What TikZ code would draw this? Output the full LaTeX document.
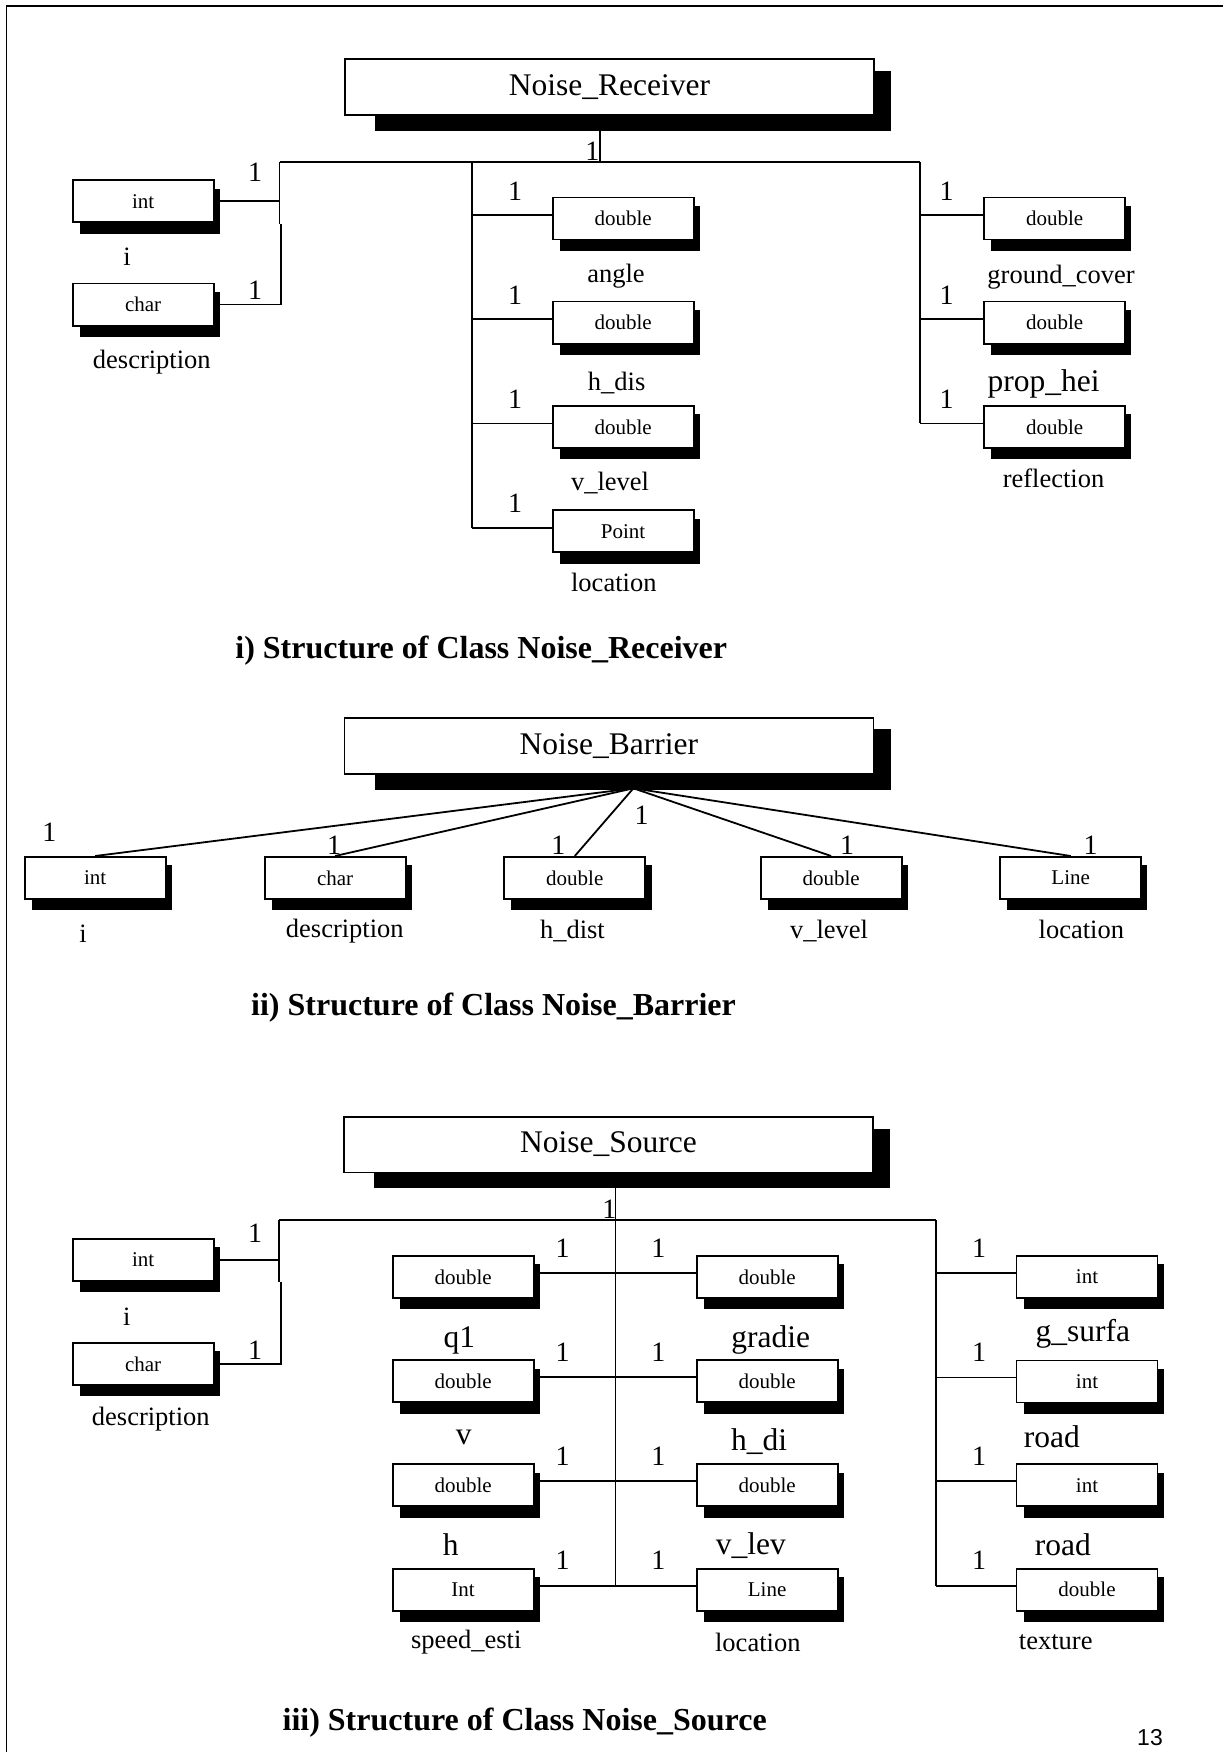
\documentclass[tikz,border=0pt]{standalone}
\usepackage{fontspec}
\setmainfont{Liberation Serif}
\newfontfamily\pagefont{Liberation Sans}
\usetikzlibrary{calc,backgrounds}

\tikzset{
  link/.style={line width=1.8pt},
  attr/.style={draw, fill=white, line width=1.8pt, inner sep=0pt, anchor=north west,
    minimum width=141pt, minimum height=42pt, font=\fontsize{21}{24}\selectfont},
  cls/.style={draw, fill=white, line width=1.8pt, inner sep=0pt, anchor=north west,
    minimum width=529pt, minimum height=55.5pt, font=\fontsize{31.5}{36}\selectfont},
  mult/.style={inner sep=0pt, font=\fontsize{28}{30}\selectfont},
  lbl/.style={inner sep=0pt, font=\fontsize{26.5}{30}\selectfont},
  biglbl/.style={inner sep=0pt, font=\fontsize{31.5}{34}\selectfont},
  caption/.style={inner sep=0pt, anchor=base west, font=\bfseries\fontsize{32}{36}\selectfont},
}

\begin{document}
\begin{tikzpicture}[x=1pt, y=-1pt]
\useasboundingbox (0,0) rectangle (1223,1752);

% page frame (left and top edges)
\draw[line width=1.5pt] (6.5,1752) -- (6.5,6) -- (1223,6);

% ================= class Noise_Receiver =================
\node[cls] (recv) at (344,58.5) {Noise\_Receiver};
\node[attr] (r_i)    at (71.7,179.3)  {int};
\node[attr] (r_desc) at (71.7,282.7)  {char};
\node[attr] (r_angle) at (551.7,196.7) {double};
\node[attr] (r_hdis)  at (551.7,300.7) {double};
\node[attr] (r_vlev)  at (551.7,405)   {double};
\node[attr] (r_loc)   at (551.7,509.3) {Point};
\node[attr] (r_gc)    at (983.3,196.7) {double};
\node[attr] (r_ph)    at (983.3,300.7) {double};
\node[attr] (r_refl)  at (983.3,405)   {double};

\coordinate (r_bus)   at (600,162);
\coordinate (r_left)  at (279.5,162);
\coordinate (r_mid)   at (471.7,162);
\coordinate (r_right) at (920,162);
\coordinate (r_jog)   at (281,224);

\draw[link] (recv.south -| r_bus) -- (r_bus);
\draw[link] (r_left) -- (r_right);
\draw[link] (r_i.east) -- (r_i.east -| r_left);
\draw[link] (r_left) -- (r_left |- r_jog);
\draw[link] (r_jog) -- (r_jog |- r_desc.east) -- (r_desc.east);
\foreach \n in {r_angle,r_hdis,r_vlev,r_loc}{
  \coordinate (\n-w) at ($(\n.west)+(0,-3.5)$);
  \draw[link] (\n-w) -- (\n-w -| r_mid);
}
\draw[link] (r_mid) -- (r_loc-w -| r_mid);
\foreach \n in {r_gc,r_ph,r_refl}{
  \coordinate (\n-w) at ($(\n.west)+(0,-3.5)$);
  \draw[link] (\n-w) -- (\n-w -| r_right);
}
\draw[link] (r_right) -- (r_refl-w -| r_right);

\node[mult] (r_m0) at (592.3,151) {1};
\node[mult] (r_m1) at (255,172.7) {1};
\node[mult] (r_m2) at (255,290.3) {1};
\node[mult] (r_m3) at (515,191.3) {1};
\node[mult] (r_m4) at (515,295) {1};
\node[mult] (r_m5) at (515,399.5) {1};
\node[mult] (r_m6) at (515,503.3) {1};
\node[mult] (r_m7) at (946.7,191.3) {1};
\node[mult] (r_m8) at (946.7,295) {1};
\node[mult] (r_m9) at (946.7,399.5) {1};

\node[lbl] (r_ti) at (127,256.7) {i};
\node[lbl] (r_td) at (151.8,361.7) {description};
\node[lbl] (r_ta) at (616,276) {angle};
\node[lbl] (r_th) at (616.7,383) {h\_dis};
\node[lbl] (r_tv) at (610,483) {v\_level};
\node[lbl] (r_tl) at (613.8,582.5) {location};
\node[lbl] (r_tg) at (1061,277.5) {ground\_cover};
\node[biglbl] (r_tp) at (1043.5,384) {prop\_hei};
\node[lbl] (r_tr) at (1053.5,478.5) {reflection};

\node[caption] (cap1) at (235.2,658.3) {i) Structure of Class Noise\_Receiver};

% ================= class Noise_Barrier =================
\node[cls, minimum height=56pt] (barr) at (343.5,716.7) {Noise\_Barrier};
\node[attr] (b_i)    at (23.7,856)  {int};
\node[attr] (b_desc) at (263.7,856) {char};
\node[attr] (b_hd)   at (503.4,856) {double};
\node[attr] (b_vl)   at (759.7,856) {double};
\node[attr] (b_loc)  at (999.3,856) {Line};

\coordinate (b_hub) at (633.4,788.3);
\foreach \n in {b_i,b_desc,b_hd,b_vl,b_loc}
  \draw[link] (b_hub) -- (\n.north);

\node[mult] (b_m1) at (49.4,832.5) {1};
\node[mult] (b_m2) at (334,845) {1};
\node[mult] (b_m3) at (558.3,845) {1};
\node[mult] (b_m4) at (641.7,815) {1};
\node[mult] (b_m5) at (847,845) {1};
\node[mult] (b_m6) at (1090.7,845) {1};

\node[lbl] (b_ti) at (83,934) {i};
\node[lbl] (b_td) at (344.8,931) {description};
\node[lbl] (b_th) at (572.4,931) {h\_dist};
\node[lbl] (b_tv) at (829,931) {v\_level};
\node[lbl] (b_tl) at (1081.3,929) {location};

\node[caption] (cap2) at (251,1015) {ii) Structure of Class Noise\_Barrier};

% ================= class Noise_Source =================
\node[cls, minimum height=55.7pt] (src) at (343,1115.8) {Noise\_Source};
\node[attr] (s_i)     at (71.7,1237.7) {int};
\node[attr] (s_desc)  at (71.7,1342)   {char};
\node[attr] (s_q1)    at (391.7,1255)   {double};
\node[attr] (s_v)     at (391.7,1359.3) {double};
\node[attr] (s_h)     at (391.7,1463.3) {double};
\node[attr] (s_speed) at (391.7,1567.7) {Int};
\node[attr] (s_grad)  at (695.7,1255)   {double};
\node[attr] (s_hdi)   at (695.7,1359.3) {double};
\node[attr] (s_vlev)  at (695.7,1463.3) {double};
\node[attr] (s_loc)   at (695.7,1567.7) {Line};
\node[attr] (s_gs)    at (1015.6,1254.7) {int};
\node[attr] (s_road)  at (1015.6,1359.5) {int};
\node[attr] (s_road2) at (1015.6,1463.4) {int};
\node[attr] (s_tex)   at (1015.6,1567.8) {double};

\coordinate (s_bus)   at (615.5,1220.3);
\coordinate (s_left)  at (279.3,1220.3);
\coordinate (s_right) at (936,1220.3);
\coordinate (s_jog)   at (281,1282);

\draw[link] (s_left) -- (s_right);
\draw[link] (s_i.east) -- (s_i.east -| s_left);
\draw[link] (s_left) -- (s_left |- s_jog);
\draw[link] (s_jog) -- (s_jog |- s_desc.east) -- (s_desc.east);
\foreach \a/\b in {s_q1/s_grad,s_v/s_hdi,s_h/s_vlev,s_speed/s_loc}{
  \coordinate (\a-e) at ($(\a.east)+(0,-4)$);
  \draw[link] (\a-e) -- (\a-e -| \b.west);
}
\draw[link] (src.south -| s_bus) -- (s_speed-e -| s_bus);
\foreach \n in {s_gs,s_road,s_road2,s_tex}{
  \coordinate (\n-w) at ($(\n.west)+(0,-4)$);
  \draw[link] (\n-w) -- (\n-w -| s_right);
}
\draw[link] (s_right) -- (s_tex-w -| s_right);

\node[mult] (s_m0) at (609.3,1209) {1};
\node[mult] (s_m1) at (255,1233.3) {1};
\node[mult] (s_m2) at (255,1350.5) {1};
\foreach \r/\y in {1/1248.3,2/1352,3/1456.7,4/1560.5}{
  \node[mult] (s_ml\r) at (562.7,\y) {1};
  \node[mult] (s_mr\r) at (658.3,\y) {1};
  \node[mult] (s_mx\r) at (979,\y) {1};
}

\node[lbl] (s_ti) at (126.7,1316.7) {i};
\node[lbl] (s_td) at (150.8,1419) {description};
\node[biglbl] (s_tq) at (459.3,1340.8) {q1};
\node[biglbl] (s_tg) at (770.8,1340) {gradie};
\node[biglbl] (s_tv) at (463.8,1437.5) {v};
\node[biglbl] (s_thd) at (759.2,1441.7) {h\_di};
\node[biglbl] (s_th) at (450.7,1544.7) {h};
\node[biglbl] (s_tvl) at (750.8,1545.8) {v\_lev};
\node[lbl] (s_tsp) at (466.2,1642.5) {speed\_esti};
\node[lbl] (s_tl) at (757.8,1642.5) {location};
\node[biglbl] (s_tgs) at (1082.8,1334) {g\_surfa};
\node[biglbl] (s_tr1) at (1051.8,1436.8) {road};
\node[biglbl] (s_tr2) at (1062.8,1545) {road};
\node[lbl] (s_ttx) at (1055.7,1642) {texture};

\node[caption] (cap3) at (282.4,1730) {iii) Structure of Class Noise\_Source};
\node[inner sep=0pt, font=\pagefont\fontsize{23}{26}\selectfont] (pageno) at (1150,1738) {13};

% drop shadows behind the boxes
\begin{scope}[on background layer]
  \foreach \n in {recv,barr,src}
    \fill ([shift={(31,12.7)}]\n.north west) rectangle ([shift={(16.5,15)}]\n.south east);
  \foreach \n in {r_i,r_desc,r_angle,r_hdis,r_vlev,r_loc,r_gc,r_ph,r_refl,
                  b_i,b_desc,b_hd,b_vl,b_loc,
                  s_i,s_desc,s_q1,s_v,s_h,s_speed,s_grad,s_hdi,s_vlev,s_loc,
                  s_gs,s_road,s_road2,s_tex}
    \fill ([shift={(8,9.3)}]\n.north west) rectangle ([shift={(5.3,10.6)}]\n.south east);
\end{scope}
\end{tikzpicture}
\end{document}
